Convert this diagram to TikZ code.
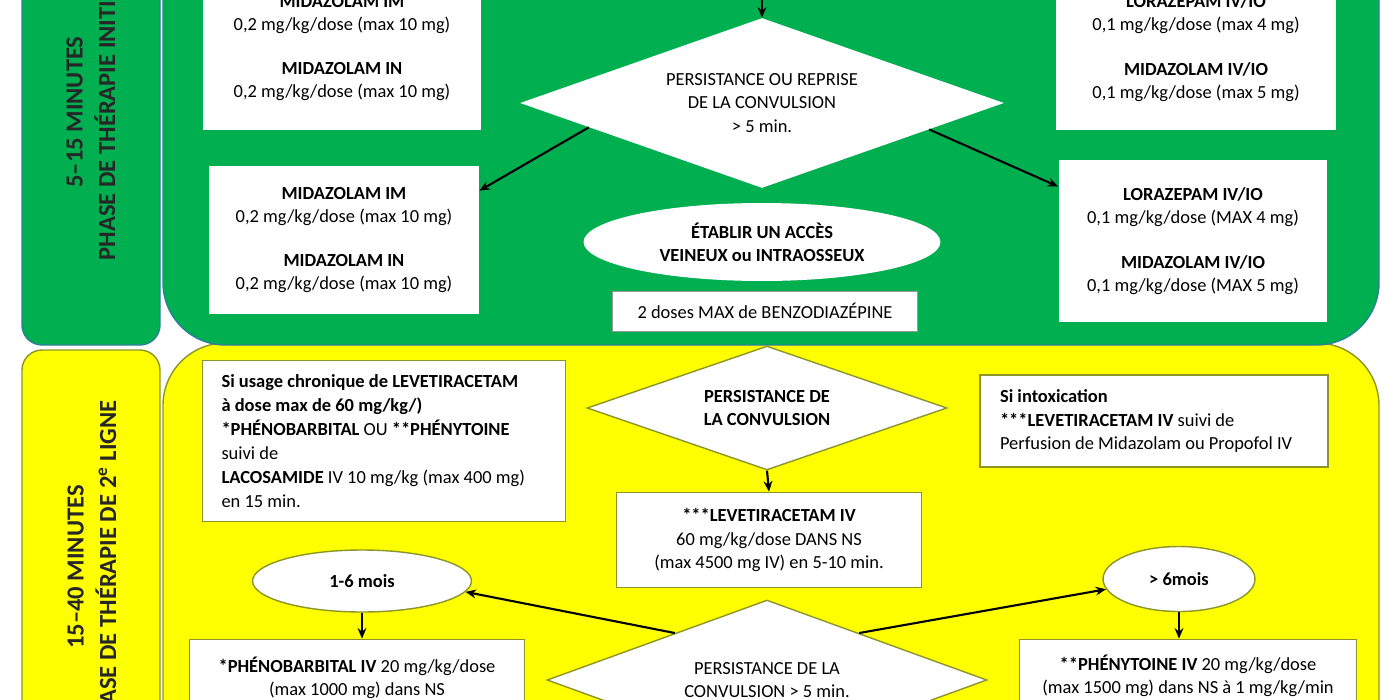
\documentclass[tikz,border=0pt]{standalone}
\usepackage{fontspec}
\setmainfont{Carlito}
\usetikzlibrary{arrows.meta, positioning, shapes.geometric}

\definecolor{phasegreen}{RGB}{0,176,80}
\definecolor{phaseyellow}{RGB}{255,255,0}
\definecolor{greenedge}{RGB}{40,130,150}
\definecolor{oliveedge}{RGB}{140,150,40}

\tikzset{
  greenpanel/.style={fill=phasegreen, draw=greenedge, line width=0.8pt},
  yellowpanel/.style={fill=phaseyellow, draw=oliveedge, line width=0.8pt},
  phaselabel/.style={rotate=90, align=center, text=black!85, font=\fontsize{14}{18.5}\selectfont\bfseries},
  medbox/.style={fill=white, align=center, inner sep=0pt, font=\fontsize{10.5}{13.2}\selectfont},
  ybox/.style={medbox, draw=oliveedge, line width=1pt},
  decision/.style={diamond, fill=white, inner sep=0pt, align=center, font=\fontsize{10.5}{13.2}\selectfont},
  agegroup/.style={ellipse, fill=white, draw=oliveedge, line width=0.8pt, inner sep=0pt, font=\fontsize{10.5}{13}\selectfont\bfseries},
  flow/.style={-{Stealth[length=6pt, width=5pt]}, line width=1.2pt, black}
}

\begin{document}
\begin{tikzpicture}[x=0.02cm, y=-0.02cm]
\useasboundingbox (0,0) rectangle (1400,700);
\clip (0,0) rectangle (1400,700);
\fill[white] (0,0) rectangle (1400,700);

% Phase panels (second line first, initial phase drawn over it)
\draw[yellowpanel, rounded corners=0.4cm] (22,350) rectangle (160,800);
\draw[yellowpanel, rounded corners=1.25cm] (163,343) rectangle (1379,800);
\draw[greenpanel, rounded corners=0.4cm] (22,-80) rectangle (160,345);
\draw[greenpanel, rounded corners=1.25cm] (163,-80) rectangle (1379,345);

\node[phaselabel] (lblInit) at (91,112) {5--15 MINUTES\\PHASE DE THÉRAPIE INITIALE};
\node[phaselabel] (lblSecond) at (92,567) {15--40 MINUTES\\PHASE DE THÉRAPIE DE 2\textsuperscript{e} LIGNE};

% --- Initial phase ---
\coordinate (fromTop) at (762,-40);
\node[medbox, minimum width=5.56cm, minimum height=3.28cm] (bTL) at (342,48)
  {\textbf{MIDAZOLAM IM}\\0,2 mg/kg/dose (max 10 mg)\\[12pt]\textbf{MIDAZOLAM IN}\\0,2 mg/kg/dose (max 10 mg)};
\node[medbox, minimum width=5.62cm, minimum height=3.28cm] (bTR) at (1196,48)
  {\textbf{LORAZEPAM IV/IO}\\0,1 mg/kg/dose (max 4 mg)\\[12pt]\textbf{MIDAZOLAM IV/IO}\\0,1 mg/kg/dose (max 5 mg)};

\node[decision, shape aspect=2.85, minimum width=9.68cm, minimum height=3.4cm] (dRepeat) at (762,103)
  {PERSISTANCE OU REPRISE\\DE LA CONVULSION\\> 5 min.};

\node[medbox, minimum width=5.4cm, minimum height=2.98cm] (bML) at (344,240)
  {\textbf{MIDAZOLAM IM}\\0,2 mg/kg/dose (max 10 mg)\\[12pt]\textbf{MIDAZOLAM IN}\\0,2 mg/kg/dose (max 10 mg)};
\node[medbox, minimum width=5.38cm, minimum height=3.24cm] (bMR) at (1193,241)
  {\textbf{LORAZEPAM IV/IO}\\0,1 mg/kg/dose (MAX 4 mg)\\[12pt]\textbf{MIDAZOLAM IV/IO}\\0,1 mg/kg/dose (MAX 5 mg)};

\node[ellipse, fill=white, inner sep=0pt, minimum width=7.14cm, minimum height=1.56cm,
  align=center, font=\fontsize{10.5}{13.2}\selectfont\bfseries] (eAccess) at (762,242)
  {ÉTABLIR UN ACCÈS\\VEINEUX ou INTRAOSSEUX};
\node[medbox, draw=black!40, minimum width=6.1cm, minimum height=0.8cm] (bMax) at (765,311)
  {2 doses MAX de BENZODIAZÉPINE};

\draw[flow] (fromTop) -- (dRepeat.north);
\draw[flow] (dRepeat.188) -- (bML.20);
\draw[flow] (dRepeat.351) -- (bMR.158);

% --- Second line ---
\node[ybox, align=flush left, text width=6.5cm, inner xsep=0.38cm, minimum height=3.22cm,
  font=\fontsize{10.5}{13.6}\selectfont] (bChronic) at (384,441)
  {\textbf{Si usage chronique de LEVETIRACETAM}\\\textbf{à dose max de 60 mg/kg/)}\\
   \textbf{*PHÉNOBARBITAL} OU \textbf{**PHÉNYTOINE}\\suivi de\\
   \textbf{LACOSAMIDE} IV 10 mg/kg (max 400 mg)\\en 15 min.};

\node[decision, draw=oliveedge, line width=0.8pt, shape aspect=2.9, minimum width=7.2cm, minimum height=2.48cm,
  font=\fontsize{10.5}{13.2}\selectfont\bfseries] (dPersist) at (767,408)
  {PERSISTANCE DE\\LA CONVULSION};

\node[ybox, align=flush left, text width=6.16cm, inner xsep=0.4cm, minimum height=1.84cm] (bIntox) at (1154,421)
  {\textbf{Si intoxication}\\\textbf{***LEVETIRACETAM IV} suivi de\\Perfusion de Midazolam ou Propofol IV};

\node[ybox, minimum width=6.1cm, minimum height=1.9cm] (bLev) at (769,540)
  {\textbf{***LEVETIRACETAM IV}\\60 mg/kg/dose DANS NS\\(max 4500 mg IV) en 5-10 min.};

\node[agegroup, minimum width=4.38cm, minimum height=1.24cm] (eYoung) at (362,581) {1-6 mois};
\node[agegroup, minimum width=3.04cm, minimum height=1.3cm] (eOld) at (1179,579) {> 6mois};

\node[decision, draw=oliveedge, line width=0.8pt, shape aspect=2.75, minimum width=8.8cm, minimum height=3.2cm] (dAge) at (767,680)
  {PERSISTANCE DE LA\\CONVULSION > 5 min.};

\node[ybox, minimum width=6.7cm, minimum height=1.54cm] (bPheno) at (357,678)
  {\textbf{*PHÉNOBARBITAL IV} 20 mg/kg/dose\\(max 1000 mg) dans NS};
\node[ybox, minimum width=6.74cm, minimum height=1.46cm] (bPhen) at (1188,676)
  {\textbf{**PHÉNYTOINE IV} 20 mg/kg/dose\\(max 1500 mg) dans NS à 1 mg/kg/min};

\draw[flow] (dPersist.south) -- (bLev.north);
\draw[flow] (dAge.153) -- (eYoung.-6);
\draw[flow] (dAge.27) -- (eOld.188);
\draw[flow] (eYoung.south) -- (eYoung.south |- bPheno.north);
\draw[flow] (eOld.south) -- (eOld.south |- bPhen.north);

\end{tikzpicture}
\end{document}
